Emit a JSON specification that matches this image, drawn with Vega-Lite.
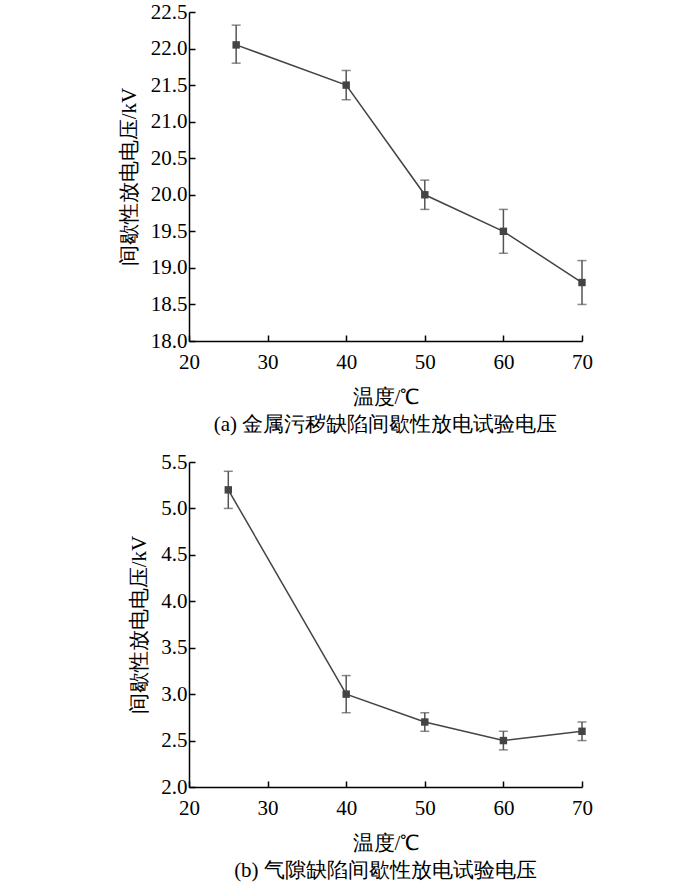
{
  "$schema": "https://vega.github.io/schema/vega-lite/v6.json",
  "background": "white",
  "padding": {"left": 118, "top": 1, "right": 10, "bottom": 5},
  "datasets": {
    "a": [
      {"t": 26, "v": 22.05, "lo": 21.8, "hi": 22.32},
      {"t": 40, "v": 21.5, "lo": 21.3, "hi": 21.7},
      {"t": 50, "v": 20.0, "lo": 19.8, "hi": 20.2},
      {"t": 60, "v": 19.5, "lo": 19.2, "hi": 19.8},
      {"t": 70, "v": 18.8, "lo": 18.5, "hi": 19.1}
    ],
    "b": [
      {"t": 25, "v": 5.2, "lo": 5.0, "hi": 5.4},
      {"t": 40, "v": 3.0, "lo": 2.8, "hi": 3.2},
      {"t": 50, "v": 2.7, "lo": 2.6, "hi": 2.8},
      {"t": 60, "v": 2.5, "lo": 2.4, "hi": 2.6},
      {"t": 70, "v": 2.6, "lo": 2.5, "hi": 2.7}
    ]
  },
  "spacing": 16,
  "vconcat": [
    {
      "width": 393,
      "height": 329,
      "data": {"name": "a"},
      "title": {"text": "(a)  金属污秽缺陷间歇性放电试验电压", "orient": "bottom", "offset": 7},
      "encoding": {
        "x": {"field": "t", "type": "quantitative", "scale": {"domain": [20, 70]}, "axis": {"values": [20, 30, 40, 50, 60, 70], "title": "温度/℃"}},
        "y": {"field": "v", "type": "quantitative", "scale": {"domain": [18, 22.5]}, "axis": {"values": [18, 18.5, 19, 19.5, 20, 20.5, 21, 21.5, 22, 22.5], "format": ".1f", "title": "间歇性放电电压/kV"}}
      },
      "layer": [
        {"mark": {"type": "errorbar", "ticks": {"size": 9, "color": "#555555", "thickness": 1.5}, "rule": {"color": "#555555", "strokeWidth": 1.5}}, "encoding": {"y": {"field": "lo", "type": "quantitative"}, "y2": {"field": "hi"}}},
        {"mark": {"type": "line", "color": "#444444", "strokeWidth": 1.5}},
        {"mark": {"type": "point", "shape": "square", "filled": true, "size": 55, "color": "#444444", "opacity": 1}}
      ]
    },
    {
      "width": 393,
      "height": 325,
      "data": {"name": "b"},
      "title": {"text": "(b)  气隙缺陷间歇性放电试验电压", "orient": "bottom", "offset": 7},
      "encoding": {
        "x": {"field": "t", "type": "quantitative", "scale": {"domain": [20, 70]}, "axis": {"values": [20, 30, 40, 50, 60, 70], "title": "温度/℃"}},
        "y": {"field": "v", "type": "quantitative", "scale": {"domain": [2, 5.5]}, "axis": {"values": [2, 2.5, 3, 3.5, 4, 4.5, 5, 5.5], "format": ".1f", "title": "间歇性放电电压/kV"}}
      },
      "layer": [
        {"mark": {"type": "errorbar", "ticks": {"size": 9, "color": "#555555", "thickness": 1.5}, "rule": {"color": "#555555", "strokeWidth": 1.5}}, "encoding": {"y": {"field": "lo", "type": "quantitative"}, "y2": {"field": "hi"}}},
        {"mark": {"type": "line", "color": "#444444", "strokeWidth": 1.5}},
        {"mark": {"type": "point", "shape": "square", "filled": true, "size": 55, "color": "#444444", "opacity": 1}}
      ]
    }
  ],
  "config": {
    "font": "Liberation Serif",
    "view": {"stroke": null},
    "axis": {
      "grid": false,
      "domainColor": "#000000",
      "domainWidth": 1.5,
      "tickColor": "#000000",
      "tickWidth": 1.5,
      "tickSize": -6,
      "labelFont": "Liberation Serif",
      "labelFontSize": 21,
      "labelColor": "#000000",
      "titleFont": "Liberation Serif",
      "titleFontSize": 21,
      "titleFontWeight": "normal",
      "titleColor": "#000000",
      "labelFlush": false,
      "labelOverlap": false
    },
    "axisX": {"titlePadding": 14, "labelPadding": 16},
    "axisY": {"titlePadding": 11, "labelPadding": 8},
    "title": {"font": "Liberation Serif", "fontSize": 21, "fontWeight": "normal", "color": "#000000", "anchor": "middle"}
  }
}
